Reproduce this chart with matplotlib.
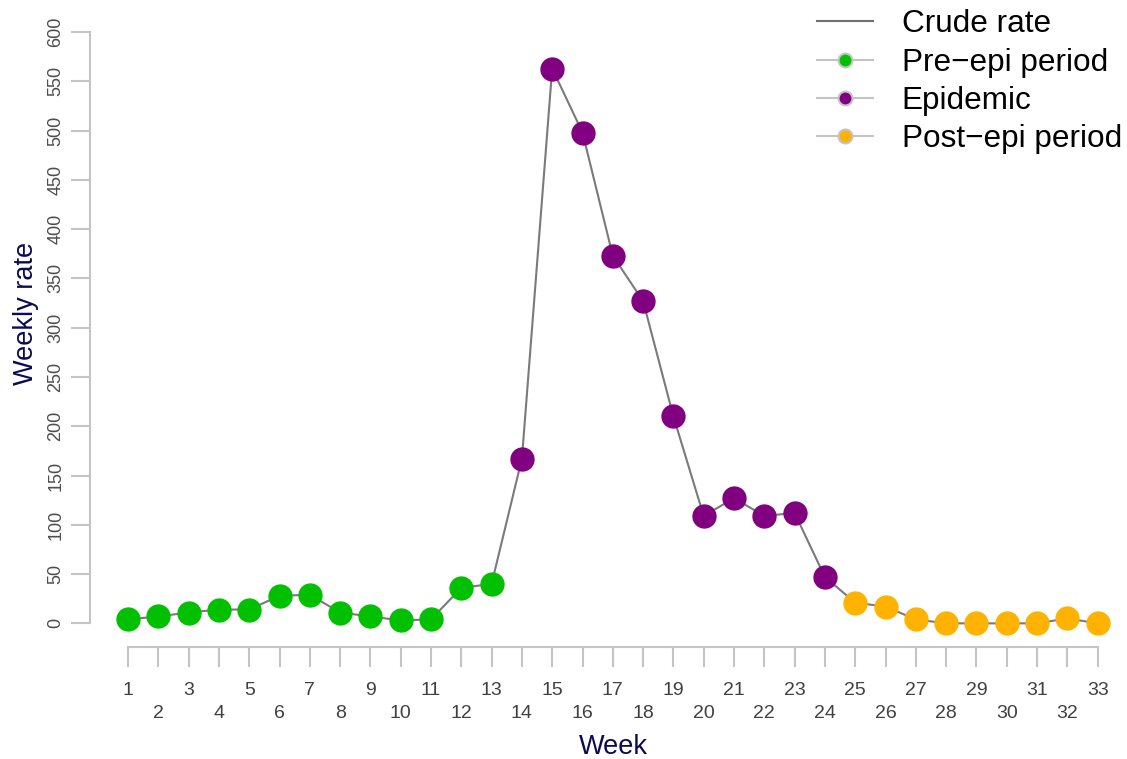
import matplotlib
matplotlib.use("Agg")
import matplotlib.pyplot as plt
from matplotlib.lines import Line2D

# weekly crude rate
weeks = list(range(1, 34))
rate = [4, 7, 11, 14, 14, 28, 29, 11, 7, 3, 4, 36, 40,
        167, 563, 498, 373, 327, 210, 109, 127, 109, 112, 47,
        21, 17, 4, 0, 0, 0, 0, 5, 0]
pre_weeks = weeks[:13]
epi_weeks = weeks[13:24]
post_weeks = weeks[24:]
yticks = list(range(0, 601, 50))

c_pre, c_epi, c_post = "#00C000", "#800080", "#FFB300"
axis_grey = "#C4C4C4"
navy = "#0B0B50"

plt.rcParams.update({"font.family": ["Liberation Sans", "DejaVu Sans"]})
fig = plt.figure(figsize=(11.27, 7.59), dpi=100)
W, H = 1127, 759
ax = fig.add_axes([90 / W, (H - 647) / H, 1037 / W, (647 - 8.4) / H])

ax.plot(weeks, rate, color="#7A7A7A", lw=1.5, zorder=1)
for wk, col in [(pre_weeks, c_pre), (epi_weeks, c_epi), (post_weeks, c_post)]:
    ax.plot(wk, [rate[w - 1] for w in wk], "o", ls="none", ms=16.5,
            color=col, mec=col, zorder=2)

ax.set_xlim(1 - 38 / 30.3, 1 - 38 / 30.3 + 1037 / 30.3)
ax.set_ylim(-24, 624)

for s in ["top", "right"]:
    ax.spines[s].set_visible(False)
for s in ["left", "bottom"]:
    ax.spines[s].set_color(axis_grey)
    ax.spines[s].set_linewidth(1.5)
ax.spines["left"].set_bounds(0, 600)
ax.spines["bottom"].set_bounds(1, 33)

ax.set_yticks(yticks, [str(v) for v in yticks])
ax.tick_params(axis="y", length=13.5, width=1.5, color=axis_grey, pad=5,
               labelsize=13, labelcolor="#4D4D4D", labelrotation=90)
for t in ax.get_yticklabels():
    t.set_va("center")

odd = [w for w in weeks if w % 2 == 1]
even = [w for w in weeks if w % 2 == 0]
ax.set_xticks(odd, [str(w) for w in odd])
ax.set_xticks(even, [str(w) for w in even], minor=True)
ax.tick_params(axis="x", which="both", length=14.4, width=1.5, color=axis_grey,
               labelsize=14, labelcolor="#404040")
ax.tick_params(axis="x", which="major", pad=11)
ax.tick_params(axis="x", which="minor", pad=11 + 16.3)

ax.set_xlabel("Week", fontsize=19.5, color=navy)
ax.xaxis.set_label_coords((613 - 90) / 1037, (647 - 734) / 638.6)
ax.set_ylabel("Weekly rate", fontsize=19.5, color=navy)
ax.yaxis.set_label_coords((39 - 90) / 1037, (647 - 313) / 638.6)

handles = [
    Line2D([], [], color="#707070", lw=1.5),
    Line2D([], [], color=axis_grey, lw=1.5, marker="o", ms=10, mfc=c_pre,
           mec=axis_grey, mew=1.5),
    Line2D([], [], color=axis_grey, lw=1.5, marker="o", ms=10, mfc=c_epi,
           mec=axis_grey, mew=1.5),
    Line2D([], [], color=axis_grey, lw=1.5, marker="o", ms=10, mfc=c_post,
           mec=axis_grey, mew=1.5),
]
labels = ["Crude rate", "Pre\u2212epi period", "Epidemic", "Post\u2212epi period"]
fig.legend(handles, labels, loc="upper right", bbox_to_anchor=(1.004, 1.0),
           frameon=False, fontsize=22.7, handlelength=1.8, handletextpad=0.9,
           labelspacing=0.26, borderpad=0.1, borderaxespad=0.2)

fig.savefig("out.png", dpi=100)
